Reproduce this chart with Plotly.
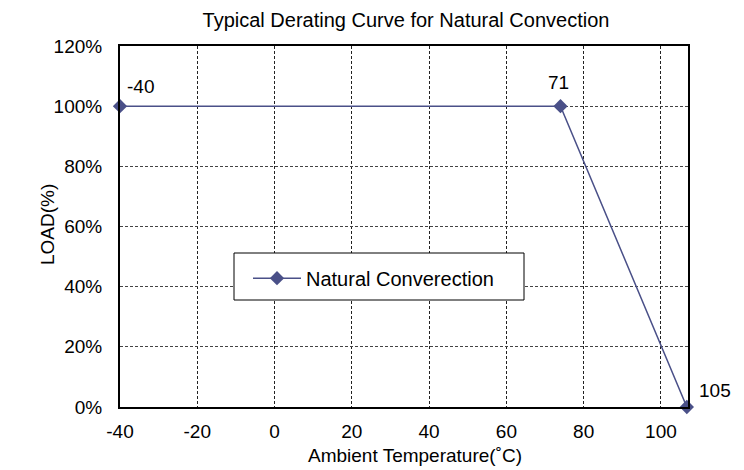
import plotly.graph_objects as go

# Data
temps = [-40, 74, 106.7]          # plotted x positions
load_pct = [100, 100, 0]          # LOAD (%)
point_labels = ["-40", "71", "105"]
series_name = "Natural Converection"

x_tickvals = [-40, -20, 0, 20, 40, 60, 80, 100]
x_ticktext = ["-40", "-20", "0", "20", "40", "60", "80", "100"]
y_tickvals = [0, 20, 40, 60, 80, 100, 120]
y_ticktext = ["0%", "20%", "40%", "60%", "80%", "100%", "120%"]

FONT = "Arial, 'Liberation Sans', Helvetica, sans-serif"
SERIES_COLOR = "#4a5088"

# plot area in figure pixels
L, R, T, B = 112, 680, 38, 399
W, H = 744, 470
PW, PH = R - L, B - T

fig = go.Figure()
fig.add_trace(go.Scatter(
    x=temps, y=load_pct, mode="lines+markers", name=series_name,
    line=dict(color=SERIES_COLOR, width=1.5),
    marker=dict(symbol="diamond", size=11, color=SERIES_COLOR),
    cliponaxis=False,
))

# data labels
shifts = [(5, 7), (-14, 11), (10, 4)]
for xv, yv, txt, (dx, dy) in zip(temps, load_pct, point_labels, shifts):
    fig.add_annotation(x=xv, y=yv, text=txt, showarrow=False,
                       xanchor="left", yanchor="bottom",
                       xshift=dx, yshift=dy,
                       font=dict(family=FONT, size=19, color="#000"))

# axis titles
fig.add_annotation(xref="paper", yref="paper", x=(407 - L) / PW, y=0,
                   yshift=-48, xanchor="center", yanchor="middle",
                   text="Ambient Temperature(˚C)", showarrow=False,
                   font=dict(family=FONT, size=19, color="#000"))
fig.add_annotation(xref="paper", yref="paper", x=0, y=(B - 217) / PH,
                   xshift=39 - L, xanchor="center", yanchor="middle",
                   text="LOAD(%)", textangle=-90, showarrow=False,
                   font=dict(family=FONT, size=19, color="#000"))

# legend frame
fig.add_shape(type="rect", xref="paper", yref="paper",
              x0=(226 - L) / PW, x1=(516 - L) / PW,
              y0=(B - 292) / PH, y1=(B - 245) / PH,
              line=dict(color="#000", width=1), fillcolor="white", layer="above")

fig.update_layout(
    width=W, height=H,
    margin=dict(l=L, r=W - R, t=T, b=H - B),
    paper_bgcolor="white", plot_bgcolor="white",
    font=dict(family=FONT, size=19, color="#000"),
    title=dict(text="Typical Derating Curve for Natural Convection",
               x=398 / W, xanchor="center", y=1 - 12 / H, yanchor="middle",
               font=dict(family=FONT, size=20, color="#000")),
    showlegend=True,
    legend=dict(x=(240 - L) / PW, y=(B - 250.7) / PH, xanchor="left", yanchor="top",
                bgcolor="rgba(0,0,0,0)", borderwidth=0, itemwidth=48,
                font=dict(family=FONT, size=20, color="#000")),
)

fig.update_xaxes(
    range=[-40, 107], tickmode="array", tickvals=x_tickvals, ticktext=x_ticktext,
    showline=True, linecolor="#000", linewidth=2, mirror=True,
    showgrid=True, gridcolor="#222", gridwidth=1, griddash="3px,2px",
    zeroline=False, ticks="", ticklabelstandoff=6,
)
fig.update_yaxes(
    range=[0, 120], tickmode="array", tickvals=y_tickvals, ticktext=y_ticktext,
    showline=True, linecolor="#000", linewidth=2, mirror=True,
    showgrid=True, gridcolor="#444", gridwidth=1, griddash="3px,2px",
    zeroline=False, ticks="", ticklabelstandoff=12,
)

fig.write_html("out.html")
